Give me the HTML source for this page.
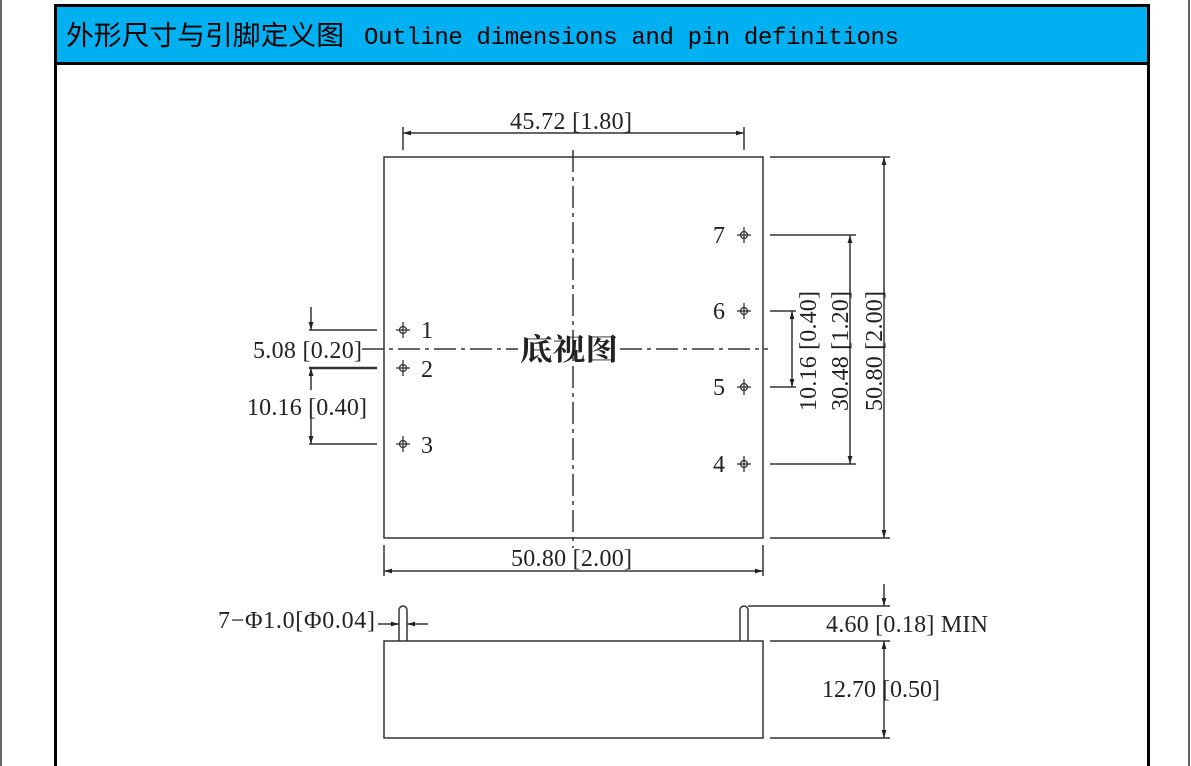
<!DOCTYPE html>
<html><head><meta charset="utf-8"><style>
body{margin:0;width:1191px;height:766px;background:#fff;overflow:hidden;position:relative}
svg{position:absolute;left:0;top:0}
</style></head><body>
<svg width="1191" height="766" viewBox="0 0 1191 766" xmlns="http://www.w3.org/2000/svg">
<defs>
<marker id="a" viewBox="0 0 10 10" refX="10" refY="5" markerWidth="9" markerHeight="8" orient="auto-start-reverse" markerUnits="userSpaceOnUse"><path d="M0,2 L10,5 L0,8 z" fill="#222"/></marker>
</defs>
<line x1="1" y1="0" x2="1" y2="766" stroke="#666" stroke-width="2"/>
<line x1="1189" y1="0" x2="1189" y2="766" stroke="#666" stroke-width="2"/>
<rect x="55.5" y="5.5" width="1093" height="58" fill="#00b0f0" stroke="#000" stroke-width="3"/>
<line x1="55.5" y1="63" x2="55.5" y2="766" stroke="#000" stroke-width="3"/>
<line x1="1148.5" y1="63" x2="1148.5" y2="766" stroke="#000" stroke-width="3"/>
<text x="66" y="45" font-family="'Noto Sans CJK SC','WenQuanYi Zen Hei',sans-serif" font-size="27" textLength="278" lengthAdjust="spacingAndGlyphs">外形尺寸与引脚定义图</text>
<text x="364" y="44" font-family="'Liberation Mono',monospace" font-size="24" textLength="535">Outline dimensions and pin definitions</text>
<g stroke="#333" stroke-width="1.5" fill="none">
<rect x="384" y="157" width="379" height="381"/>
<line x1="573" y1="150" x2="573" y2="548" stroke-dasharray="22,5,4,5"/>
<line x1="362" y1="349" x2="518" y2="349" stroke-dasharray="22,5,4,5"/>
<line x1="620" y1="349" x2="768" y2="349" stroke-dasharray="22,5,4,5"/>
<line x1="403" y1="127" x2="403" y2="150"/><line x1="744" y1="127" x2="744" y2="150"/>
<line x1="403" y1="133" x2="744" y2="133" marker-start="url(#a)" marker-end="url(#a)"/>
<line x1="384" y1="545" x2="384" y2="576"/><line x1="763" y1="545" x2="763" y2="576"/>
<line x1="384" y1="571" x2="763" y2="571" marker-start="url(#a)" marker-end="url(#a)"/>
<line x1="770" y1="157" x2="890" y2="157"/><line x1="770" y1="538" x2="890" y2="538"/>
<line x1="884" y1="157" x2="884" y2="538" marker-start="url(#a)" marker-end="url(#a)"/>
<line x1="770" y1="235" x2="856" y2="235"/><line x1="770" y1="464" x2="856" y2="464"/>
<line x1="850" y1="235" x2="850" y2="464" marker-start="url(#a)" marker-end="url(#a)"/>
<line x1="770" y1="311" x2="796" y2="311"/><line x1="770" y1="387" x2="796" y2="387"/>
<line x1="792" y1="311" x2="792" y2="387" marker-start="url(#a)" marker-end="url(#a)"/>
<line x1="309" y1="330" x2="377" y2="330"/><line x1="309" y1="368" x2="377" y2="368" stroke-width="2.5"/><line x1="309" y1="444" x2="377" y2="444"/>
<line x1="311" y1="307" x2="311" y2="330" marker-end="url(#a)"/>
<line x1="311" y1="390" x2="311" y2="368" marker-end="url(#a)"/>
<line x1="311" y1="418" x2="311" y2="444" marker-end="url(#a)"/>
<rect x="384" y="641" width="379" height="97"/>
<path d="M399,641 V610 a4,4 0 0 1 8,0 V641"/>
<path d="M740,641 V610 a4,4 0 0 1 8,0 V641"/>
<line x1="748" y1="606" x2="890" y2="606"/>
<line x1="770" y1="641" x2="890" y2="641"/><line x1="770" y1="738" x2="890" y2="738"/>
<line x1="884" y1="584" x2="884" y2="606" marker-end="url(#a)"/>
<line x1="884" y1="660" x2="884" y2="641" marker-end="url(#a)"/>
<line x1="884" y1="660" x2="884" y2="738" marker-end="url(#a)"/>
<line x1="378" y1="624" x2="399" y2="624" marker-end="url(#a)"/>
<line x1="428" y1="624" x2="407" y2="624" marker-end="url(#a)"/>
</g>
<g stroke="#333" stroke-width="1.3" fill="none">
<circle cx="403" cy="330" r="3.5"/><line x1="396" y1="330" x2="410" y2="330"/><line x1="403" y1="322" x2="403" y2="338"/>
<circle cx="403" cy="368" r="3.5"/><line x1="396" y1="368" x2="410" y2="368"/><line x1="403" y1="360" x2="403" y2="376"/>
<circle cx="403" cy="444" r="3.5"/><line x1="396" y1="444" x2="410" y2="444"/><line x1="403" y1="436" x2="403" y2="452"/>
<circle cx="744" cy="235" r="3.5"/><line x1="737" y1="235" x2="751" y2="235"/><line x1="744" y1="227" x2="744" y2="243"/>
<circle cx="744" cy="311" r="3.5"/><line x1="737" y1="311" x2="751" y2="311"/><line x1="744" y1="303" x2="744" y2="319"/>
<circle cx="744" cy="387" r="3.5"/><line x1="737" y1="387" x2="751" y2="387"/><line x1="744" y1="379" x2="744" y2="395"/>
<circle cx="744" cy="464" r="3.5"/><line x1="737" y1="464" x2="751" y2="464"/><line x1="744" y1="456" x2="744" y2="472"/>
</g>
<g font-family="'Liberation Serif',serif" font-size="24" fill="#222" lengthAdjust="spacingAndGlyphs">
<text x="510" y="129" textLength="122">45.72 [1.80]</text>
<text x="511" y="566" textLength="121">50.80 [2.00]</text>
<text x="253" y="358" textLength="109">5.08 [0.20]</text>
<text x="247" y="415" textLength="120">10.16 [0.40]</text>
<text x="421" y="338">1</text><text x="421" y="377">2</text><text x="421" y="453">3</text>
<text x="713" y="243">7</text><text x="713" y="319">6</text><text x="713" y="395">5</text><text x="713" y="472">4</text>
<text transform="translate(816,411) rotate(-90)" textLength="120">10.16 [0.40]</text>
<text transform="translate(848,411) rotate(-90)" textLength="120">30.48 [1.20]</text>
<text transform="translate(882,411) rotate(-90)" textLength="120">50.80 [2.00]</text>
<text x="218" y="628" textLength="157">7−Φ1.0[Φ0.04]</text>
<text x="826" y="632" textLength="162">4.60 [0.18] MIN</text>
<text x="822" y="697" textLength="118">12.70 [0.50]</text>
</g>
<text x="520" y="360" font-family="'Noto Serif CJK SC',serif" font-size="30" font-weight="bold" fill="#222" textLength="98" lengthAdjust="spacingAndGlyphs">底视图</text>
</svg>
</body></html>
